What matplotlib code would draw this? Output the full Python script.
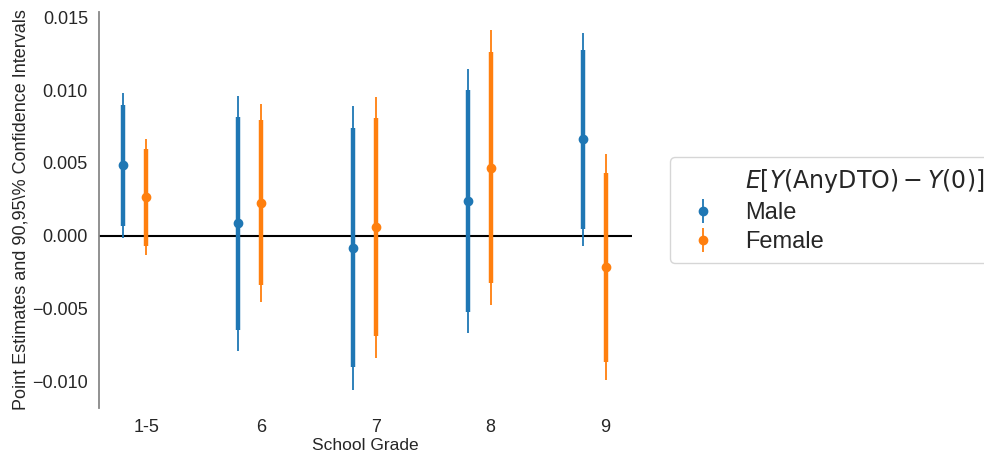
import matplotlib
matplotlib.use("Agg")
import matplotlib.pyplot as plt
import seaborn as sns
import numpy as np

sns.set_style("white")
plt.rcParams['font.family'] = ['Liberation Sans', 'DejaVu Sans']

grades = ["1-5", "6", "7", "8", "9"]

male_est = [0.00484, 0.00085, -0.00083, 0.00241, 0.00663]
male_90_lo = [0.00069, -0.00647, -0.00904, -0.00523, 0.00048]
male_90_hi = [0.00897, 0.00817, 0.00737, 0.01001, 0.01276]
male_95_lo = [-0.00014, -0.00790, -0.01061, -0.00666, -0.00071]
male_95_hi = [0.00978, 0.00957, 0.00895, 0.01148, 0.01396]

female_est = [0.00266, 0.00227, 0.00060, 0.00468, -0.00213]
female_90_lo = [-0.00069, -0.00342, -0.00693, -0.00328, -0.00866]
female_90_hi = [0.00599, 0.00797, 0.00810, 0.01262, 0.00432]
female_95_lo = [-0.00136, -0.00457, -0.00838, -0.00477, -0.00990]
female_95_hi = [0.00668, 0.00907, 0.00955, 0.01414, 0.00560]

series = [
    ("Male", "#1f77b4", -0.2, male_est, male_90_lo, male_90_hi, male_95_lo, male_95_hi),
    ("Female", "#ff7f0e", 0.0, female_est, female_90_lo, female_90_hi, female_95_lo, female_95_hi),
]

fig = plt.figure(figsize=(9.84, 4.59), dpi=100)
ax = fig.add_axes([99/984, 1-408/459, (632-99)/984, (408-12)/459])

x = np.arange(len(grades))
ax.plot([], [], ' ', label=r"$E[Y(\mathrm{AnyDTO}) - Y(0)]$")
for name, col, off, est, lo90, hi90, lo95, hi95 in series:
    xs = x + off
    est = np.array(est)
    ax.vlines(xs, lo90, hi90, color=col, lw=3.2, zorder=3)
    ax.errorbar(xs, est, yerr=[est - np.array(lo95), np.array(hi95) - est],
                fmt='o', color=col, ecolor=col, elinewidth=1.3, markersize=6,
                capsize=0, label=name, zorder=4)

ax.axhline(0, color='black', lw=1.5, zorder=2)
ax.set_xlim(-0.41, 4.23)
ax.set_ylim(-0.01185, 0.01538)
ax.set_xticks(x)
ax.set_xticklabels(grades)
yt = [-0.010, -0.005, 0.0, 0.005, 0.010, 0.015]
ax.set_yticks(yt)
ax.set_yticklabels([f"{v:.3f}".replace('-', '\u2212') for v in yt])
ax.tick_params(axis='y', labelsize=13, colors='#262626', length=0, pad=8)
ax.tick_params(axis='x', labelsize=13, colors='#262626', length=0, pad=8)
ax.set_xlabel("School Grade", fontsize=12.5, color='#262626', labelpad=1)
ax.set_ylabel("Point Estimates and 90,95\\% Confidence Intervals", fontsize=13,
              color='#262626', labelpad=2)

for s in ['top', 'right', 'bottom']:
    ax.spines[s].set_visible(False)
ax.spines['left'].set_color('#888888')
ax.spines['left'].set_linewidth(1.3)

leg = ax.legend(loc='center left', bbox_to_anchor=(1.071, 0.5), borderaxespad=0,
                fontsize=17, frameon=True, handletextpad=0.8, labelspacing=0.3)
for t in leg.get_texts():
    t.set_color('#262626')

fig.savefig("out.png", dpi=100)
